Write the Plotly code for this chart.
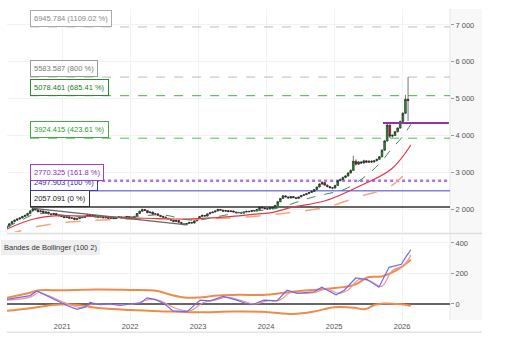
import pandas as pd
import plotly.graph_objects as go
from plotly.subplots import make_subplots

# ---------------- data ----------------
start_date = "2020-03-09"
first_open = 1500
closes = [1540, 1600, 1660, 1700, 1730, 1760, 1800, 1830, 1880, 1950,
          2010, 1980, 1930, 1950, 1900, 1920, 1870, 1850, 1880, 1830,
          1820, 1800, 1770, 1790, 1750, 1760, 1720, 1740, 1780, 1770,
          1810, 1850, 1820, 1830, 1790, 1780, 1800, 1760, 1770, 1750,
          1760, 1740, 1770, 1790, 1760, 1780, 1800, 1770, 1760, 1800,
          1880, 1940, 1990, 1960, 1900, 1920, 1860, 1870, 1830, 1800,
          1780, 1750, 1720, 1700, 1660, 1690, 1640, 1600, 1580, 1610,
          1640, 1620, 1680, 1740, 1800, 1830, 1810, 1870, 1900, 1920,
          1950, 1990, 1970, 1940, 1960, 1930, 1950, 1920, 1900, 1910,
          1890, 1920, 1940, 1930, 1960, 1950, 1990, 2050, 2030, 2010,
          2000, 2040, 2020, 2100, 2200, 2290, 2360, 2330, 2300, 2340,
          2310, 2290, 2330, 2370, 2390, 2420, 2450, 2480, 2530, 2600,
          2680, 2720, 2650, 2610, 2580, 2570, 2640, 2770, 2800, 2860,
          2900, 2980, 3050, 3300, 3220, 3280, 3250, 3310, 3270, 3300,
          3280, 3310, 3350, 3420, 3600, 3850, 4280, 3980, 4000, 4100,
          4200, 4380, 4600, 4980, 4950]
highs = [1560, 1620, 1680, 1720, 1750, 1780, 1820, 1850, 1900, 1970,
         2040, 2030, 1990, 1970, 1960, 1940, 1930, 1880, 1900, 1890,
         1850, 1840, 1810, 1800, 1800, 1780, 1770, 1750, 1790, 1800,
         1820, 1870, 1860, 1850, 1840, 1800, 1810, 1810, 1790, 1780,
         1780, 1770, 1780, 1800, 1800, 1790, 1810, 1810, 1780, 1820,
         1890, 1960, 2010, 2000, 1970, 1940, 1930, 1890, 1880, 1840,
         1820, 1800, 1760, 1730, 1710, 1700, 1700, 1650, 1610, 1620,
         1650, 1650, 1690, 1750, 1810, 1850, 1840, 1880, 1910, 1940,
         1960, 2010, 2000, 1980, 1970, 1970, 1960, 1960, 1930, 1920,
         1920, 1930, 1950, 1950, 1970, 1970, 2000, 2070, 2060, 2040,
         2030, 2050, 2050, 2110, 2210, 2300, 2380, 2370, 2340, 2350,
         2350, 2320, 2340, 2380, 2400, 2430, 2460, 2500, 2540, 2610,
         2700, 2760, 2730, 2670, 2630, 2600, 2660, 2780, 2830, 2880,
         2920, 3000, 3080, 3450, 3350, 3300, 3300, 3340, 3330, 3320,
         3330, 3330, 3370, 3440, 3620, 3880, 4340, 4300, 4030, 4120,
         4220, 4400, 4630, 5100, 5583.587]
lows = [1480, 1520, 1580, 1640, 1680, 1710, 1740, 1780, 1810, 1860,
        1930, 1960, 1910, 1910, 1880, 1890, 1850, 1830, 1840, 1810,
        1800, 1780, 1750, 1760, 1730, 1740, 1700, 1710, 1730, 1750,
        1760, 1800, 1810, 1810, 1780, 1760, 1770, 1750, 1750, 1730,
        1730, 1730, 1730, 1760, 1750, 1750, 1770, 1760, 1740, 1750,
        1790, 1870, 1930, 1950, 1890, 1890, 1850, 1850, 1820, 1780,
        1770, 1740, 1710, 1690, 1650, 1650, 1630, 1590, 1560, 1570,
        1600, 1610, 1610, 1670, 1730, 1790, 1800, 1800, 1860, 1890,
        1910, 1940, 1960, 1930, 1930, 1920, 1920, 1910, 1890, 1890,
        1880, 1880, 1910, 1920, 1920, 1940, 1940, 1980, 2020, 2000,
        1980, 1990, 2010, 2010, 2090, 2190, 2280, 2320, 2290, 2290,
        2300, 2270, 2280, 2320, 2360, 2380, 2410, 2440, 2470, 2520,
        2590, 2660, 2640, 2590, 2560, 2540, 2560, 2630, 2760, 2790,
        2840, 2880, 2960, 3040, 3180, 3200, 3220, 3230, 3250, 3250,
        3250, 3260, 3300, 3340, 3400, 3580, 3830, 3930, 3940, 3980,
        4080, 4180, 4360, 4580, 4390]

# moving averages (year, value)
ma_fast_t = [2020.19, 2020.40, 2020.58, 2020.8, 2021.0, 2021.3, 2021.6, 2021.9, 2022.2, 2022.5,
             2022.8, 2023.0, 2023.3, 2023.6, 2023.85, 2024.1, 2024.37, 2024.6, 2024.87, 2025.16,
             2025.5, 2025.7, 2025.84, 2026.0, 2026.13]
ma_fast_v = [1510, 1700, 1850, 1880, 1840, 1780, 1790, 1770, 1820, 1840,
             1720, 1700, 1800, 1900, 1950, 2000, 2135, 2280, 2405, 2540,
             2945, 3300, 3620, 3950, 4300]
ma_mid_t = [2020.19, 2020.58, 2020.95, 2021.5, 2022.04, 2022.88, 2023.5, 2023.85, 2024.1, 2024.37,
            2024.87, 2025.33, 2025.84, 2026.13]
ma_mid_v = [1460, 1730, 1820, 1800, 1760, 1730, 1800, 1865, 1910, 2045,
            2225, 2585, 3080, 3740]
ma_slow_t = [2020.19, 2020.58, 2021.07, 2022.04, 2023.03, 2023.81, 2024.37, 2024.87, 2025.33,
             2025.84, 2026.13]
ma_slow_v = [1300, 1505, 1640, 1730, 1730, 1800, 1910, 2045, 2315, 2630, 3140]

trend_t = [2020.58, 2022.84]
trend_v = [2020, 1570]

# Fibonacci levels
fib_levels = [2057.091, 2497.903, 2770.325, 3924.415, 5078.461, 5583.587, 6945.784]
fib_pcts = ["0", "100", "161.8", "423.61", "685.41", "800", "1109.02"]
fib_start = 2020.53
resist_t = [2025.72, 2026.69]
resist_v = [4340, 4340]

# oscillator panel
osc_t = [2020.19, 2020.53, 2020.63, 2020.74, 2020.93, 2021.07, 2021.22, 2021.34, 2021.41, 2021.56,
         2021.71, 2021.85, 2022.0, 2022.15, 2022.25, 2022.37, 2022.51, 2022.63, 2022.84, 2023.03,
         2023.18, 2023.37, 2023.57, 2023.76, 2023.82, 2023.97, 2024.16, 2024.31, 2024.46, 2024.71,
         2024.82, 2025.03, 2025.15, 2025.32, 2025.49, 2025.66, 2025.81, 2025.99, 2026.06, 2026.13]
osc_v = [30, 55, 85, 60, 20, -10, -35, -20, 10, -5,
         0, -10, 0, 5, 40, 30, 0, -45, -50, 25,
         20, 50, 25, -5, 0, 25, 20, 90, 70, 80,
         110, 60, 90, 170, 160, 110, 240, 260, 310, 355]
sig_t = [2020.19, 2020.53, 2020.66, 2020.8, 2020.97, 2021.15, 2021.3, 2021.45, 2021.6, 2021.85,
         2022.05, 2022.3, 2022.45, 2022.65, 2022.88, 2023.08, 2023.25, 2023.42, 2023.62, 2023.82,
         2024.02, 2024.2, 2024.36, 2024.52, 2024.74, 2024.88, 2025.07, 2025.2, 2025.37, 2025.53,
         2025.7, 2025.86, 2026.02, 2026.13]
sig_v = [25, 45, 75, 55, 20, -10, -25, 0, -2, -5,
         0, 30, 20, -25, -45, 10, 25, 45, 25, 0,
         20, 25, 75, 70, 78, 100, 70, 90, 160, 150,
         115, 220, 250, 320]
up_t = [2020.19, 2020.5, 2020.65, 2021.0, 2021.5, 2022.0, 2022.4, 2022.6, 2022.8, 2023.0,
        2023.3, 2023.6, 2024.0, 2024.5, 2024.9, 2025.3, 2025.5, 2025.7, 2025.85, 2026.0, 2026.13]
up_v = [40, 70, 88, 90, 95, 92, 85, 60, 42, 42,
        55, 60, 60, 85, 100, 125, 175, 180, 205, 245, 290]
lo_t = [2020.19, 2020.5, 2020.9, 2021.2, 2021.5, 2022.0, 2022.6, 2023.0, 2023.5, 2024.0,
        2024.4, 2024.7, 2025.0, 2025.3, 2025.45, 2025.6, 2025.7, 2025.9, 2026.0, 2026.13]
lo_v = [-45, -30, -5, -5, -25, -40, -50, -55, -50, -52,
        -65, -50, -22, -25, -35, -5, 2, 0, -2, -12]

x_range = [2020.19, 2026.706]
y_main_range = [1378, 7432]
y_osc_range = [-105, 449]
main_ticks = [2000, 3000, 4000, 5000, 6000, 7000]
osc_ticks = [0, 200, 400]


def yr(v):
    return pd.Timestamp("2020-01-01") + pd.to_timedelta((v - 2020) * 365.25, unit="D")


def yrs(lst):
    return [yr(v) for v in lst]


dates = pd.date_range(start_date, periods=len(closes), freq="14D")
opens = [first_open] + closes[:-1]

# ---------------- figure ----------------
fig = make_subplots(rows=2, cols=1, shared_xaxes=True, vertical_spacing=0.01)

fig.add_trace(go.Scatter(x=yrs(ma_slow_t), y=ma_slow_v, mode="lines",
                         line=dict(color="#f5a77a", width=1.5, dash="longdash", shape="spline")), 1, 1)
fig.add_trace(go.Scatter(x=yrs(ma_mid_t), y=ma_mid_v, mode="lines",
                         line=dict(color="#e8344a", width=1.2, shape="spline")), 1, 1)
fig.add_trace(go.Scatter(x=yrs(ma_fast_t), y=ma_fast_v, mode="lines",
                         line=dict(color="#3d8a5a", width=1, dash="dash", shape="spline")), 1, 1)
fig.add_trace(go.Scatter(x=yrs(trend_t), y=trend_v, mode="lines",
                         line=dict(color="#666666", width=1.2)), 1, 1)
fig.add_trace(go.Candlestick(x=dates, open=opens, high=highs, low=lows, close=closes,
                             increasing=dict(line=dict(color="#1a1a1a", width=0.6), fillcolor="#1f9a2a"),
                             decreasing=dict(line=dict(color="#1a1a1a", width=0.6), fillcolor="#d21f1f"),
                             whiskerwidth=0), 1, 1)
fig.add_trace(go.Scatter(x=yrs(resist_t), y=resist_v, mode="lines",
                         line=dict(color="#9a2ea8", width=2)), 1, 1)

# oscillator panel
fig.add_trace(go.Scatter(x=yrs(up_t), y=up_v, mode="lines",
                         line=dict(color="#f08a4b", width=2, shape="spline")), 2, 1)
fig.add_trace(go.Scatter(x=yrs(lo_t), y=lo_v, mode="lines",
                         line=dict(color="#f08a4b", width=2, shape="spline")), 2, 1)
fig.add_trace(go.Scatter(x=yrs(sig_t), y=sig_v, mode="lines",
                         line=dict(color="#f4928e", width=1.2, shape="spline")), 2, 1)
fig.add_trace(go.Scatter(x=yrs(osc_t), y=osc_v, mode="lines",
                         line=dict(color="#6b6bf0", width=1.2)), 2, 1)

# Fibonacci lines + labels
fib_styles = [
    dict(line="#333333", dash="solid", width=1.5, text="#222222", border="#333333"),
    dict(line="#8080e0", dash="solid", width=1.5, text="#2b2b9a", border="#3a3ab8"),
    dict(line="#b070e8", dash="dot", width=2.5, text="#8a2ec0", border="#9a40d0"),
    dict(line="#55bb55", dash="dash", width=1, text="#2f9a2f", border="#44aa44"),
    dict(line="#33bb33", dash="dash", width=1, text="#1f7a1f", border="#2e8a2e"),
    dict(line="#bbbbbb", dash="dash", width=1, text="#777777", border="#999999"),
    dict(line="#bbbbbb", dash="dash", width=1, text="#888888", border="#aaaaaa"),
]
for lvl, pct, st in zip(fib_levels, fib_pcts, fib_styles):
    fig.add_shape(type="line", xref="x", yref="y", x0=yr(fib_start), x1=yr(x_range[1]),
                  y0=lvl, y1=lvl, line=dict(color=st["line"], width=st["width"], dash=st["dash"]),
                  layer="between")
    fig.add_annotation(xref="x", yref="y", x=yr(fib_start), y=lvl, xanchor="left", yanchor="bottom",
                       text=f"{lvl:.3f} ({pct} %)", showarrow=False,
                       font=dict(family="Arial", size=7.5, color=st["text"]),
                       bgcolor="white", bordercolor=st["border"], borderwidth=1, borderpad=3)

# right axis background + separators
xr = 1 + 32 / 443
fig.add_shape(type="rect", xref="paper", yref="paper", x0=1, x1=xr, y0=0, y1=1,
              fillcolor="#f8f8f8", line=dict(width=0), layer="below")
fig.add_shape(type="line", xref="paper", yref="paper", x0=1, x1=1, y0=0, y1=1,
              line=dict(color="#e6e6e6", width=1), layer="below")
fig.add_shape(type="line", xref="paper", yref="paper", x0=0, x1=xr, y0=0.278, y1=0.278,
              line=dict(color="#dddddd", width=1.5))
fig.add_shape(type="line", xref="paper", yref="paper", x0=0, x1=xr, y0=-0.039, y1=-0.039,
              line=dict(color="#e3e3e3", width=1.5))

fig.add_annotation(xref="paper", yref="paper", x=-0.013, y=0.258, xanchor="left", yanchor="top",
                   text="Bandes de Bollinger (100 2)", showarrow=False,
                   font=dict(family="Arial", size=7.5, color="#333333"),
                   bgcolor="#efefef", bordercolor="#efefef", borderwidth=1, borderpad=2)

axis_font = dict(family="Arial", size=7.5, color="#555555")
fig.update_xaxes(range=[yr(x_range[0]), yr(x_range[1])], showgrid=True, gridcolor="#f2f2f2",
                 dtick="M12", tickformat="%Y", rangeslider=dict(visible=False), showline=False,
                 zeroline=False, tickfont=axis_font, ticks="")
fig.update_xaxes(showticklabels=False, row=1, col=1)
fig.update_layout(
    width=508, height=350,
    margin=dict(l=7, r=58, t=9, b=30),
    paper_bgcolor="white", plot_bgcolor="white",
    showlegend=False, separators=". ", boxgap=0.05,
    yaxis=dict(domain=[0.283, 1], range=y_main_range, side="right", tickvals=main_ticks,
               tickformat=",d", showgrid=True, gridcolor="#f2f2f2", zeroline=False,
               ticks="outside", ticklen=3, tickcolor="#999999", tickfont=axis_font),
    yaxis2=dict(domain=[0, 0.272], range=y_osc_range, side="right", tickvals=osc_ticks,
                showgrid=True, gridcolor="#f2f2f2", zeroline=True, zerolinecolor="#666666",
                zerolinewidth=2, ticks="outside", ticklen=3, tickcolor="#999999", tickfont=axis_font),
)

fig.write_html("out.html")
